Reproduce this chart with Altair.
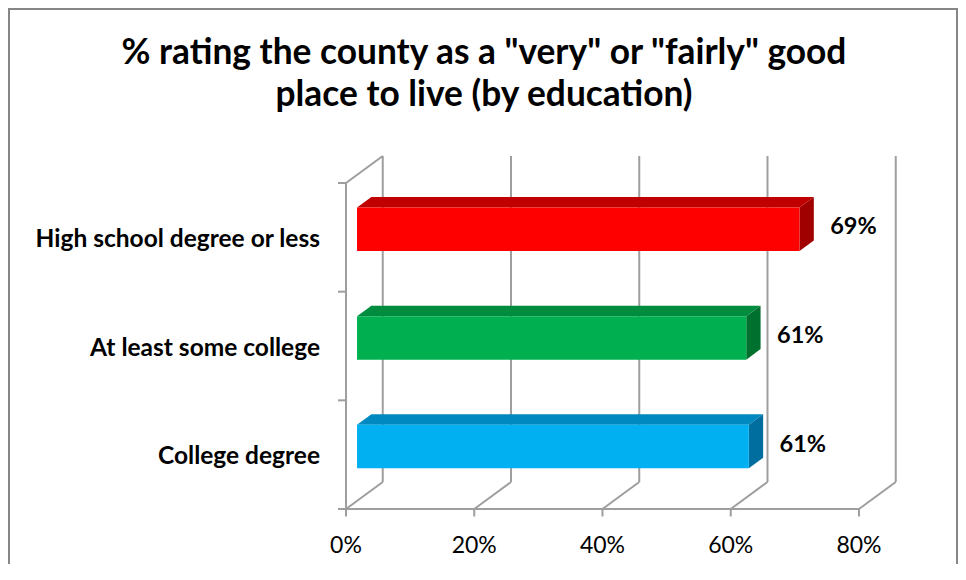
import altair as alt
import pandas as pd

# ---------------- data ----------------
categories = ["High school degree or less", "At least some college", "College degree"]
values = [69.0, 60.7, 61.1]
front_colors = ["#FF0000", "#00B050", "#00B0F0"]
top_colors = ["#C00000", "#008C3E", "#0089C0"]
side_colors = ["#A00000", "#00702F", "#006E9E"]
x_ticks = [0, 20, 40, 60, 80]
y_ticks = [0, 1, 2, 3]
title_lines = ['% rating the county as a "very" or "fairly" good',
               'place to live (by education)']

# ---------------- 3-D geometry (depth offsets in data units) ----------------
DX = 5.73      # depth shift along x (percent units)
DY = 0.2485    # depth shift along y (category units, upward)
F1 = 0.30      # bar front plane depth fraction
F2 = 0.69      # bar back plane depth fraction
HALF = 0.2     # half bar thickness (category units)
GRID = "#9E9E9E"
FONT = "Lato"
W, H = 513, 326

xs = alt.Scale(domain=[0, 80], nice=False, zero=False)
ys = alt.Scale(domain=[0, 3], nice=False, zero=False, reverse=True)


def X(f):
    return alt.X(f, type="quantitative", scale=xs, axis=None)


def Y(f):
    return alt.Y(f, type="quantitative", scale=ys, axis=None)


n = len(categories)
front = pd.DataFrame({
    "cat": categories,
    "x": [F1 * DX] * n,
    "x2": [v + F1 * DX for v in values],
    "y": [i + 0.5 - HALF - F1 * DY for i in range(n)],
    "y2": [i + 0.5 + HALF - F1 * DY for i in range(n)],
    "col": front_colors,
})

top_rows, side_rows = [], []
for i, (c, v) in enumerate(zip(categories, values)):
    for f in (F1, F2):
        top_rows.append({"cat": c, "y": i + 0.5 - HALF - f * DY,
                         "xa": f * DX, "xb": v + f * DX, "col": top_colors[i]})
        side_rows.append({"cat": c, "x": v + f * DX,
                          "ya": i + 0.5 - HALF - f * DY,
                          "yb": i + 0.5 + HALF - f * DY, "col": side_colors[i]})
top = pd.DataFrame(top_rows)
side = pd.DataFrame(side_rows)

grid = pd.DataFrame({
    "xf": x_ticks,
    "yf": [y_ticks[-1]] * len(x_ticks),
    "xb": [t + DX for t in x_ticks],
    "yt": [y_ticks[0] - DY] * len(x_ticks),
    "yb": [y_ticks[-1] - DY] * len(x_ticks),
    "lab": [f"{t}%" for t in x_ticks],
})
wall_top = pd.DataFrame({"xf": [x_ticks[0]], "yf": [y_ticks[0]],
                         "xb": [x_ticks[0] + DX], "yb": [y_ticks[0] - DY]})
frame = pd.DataFrame({"x0": [x_ticks[0]], "x1": [x_ticks[-1]],
                      "y0": [y_ticks[0]], "y1": [y_ticks[-1]]})
yt = pd.DataFrame({"yk": y_ticks})

labels = pd.DataFrame({
    "cat": categories,
    "yc": [i + 0.5 for i in range(n)],
    "xv": [v + F1 * DX for v in values],
    "yv": [i + 0.5 - F1 * DY for i in range(n)],
    "txt": [f"{round(v)}%" for v in values],
})
one = pd.DataFrame({"a": [0]})

rule = dict(color=GRID, strokeWidth=2)

back_lines = alt.Chart(grid).mark_rule(**rule).encode(
    x=X("xb"), y=Y("yt"), y2="yb")
floor_lines = alt.Chart(grid).mark_rule(**rule).encode(
    x=X("xf"), y=Y("yf"), x2="xb", y2="yb")
wall_line = alt.Chart(wall_top).mark_rule(**rule).encode(
    x=X("xf"), y=Y("yf"), x2="xb", y2="yb")
base_line = alt.Chart(frame).mark_rule(**rule).encode(
    x=X("x0"), x2="x1", y=Y("y1"))
left_line = alt.Chart(frame).mark_rule(**rule).encode(
    x=X("x0"), y=Y("y0"), y2="y1")
x_tick_marks = alt.Chart(grid).mark_rule(**rule).encode(
    x=X("xf"), y=alt.value(H), y2=alt.value(H + 7.5))
y_tick_marks = alt.Chart(yt).mark_rule(**rule).encode(
    y=Y("yk"), x=alt.value(-8), x2=alt.value(0))
x_labels = alt.Chart(grid).mark_text(
    align="center", baseline="alphabetic", font=FONT, fontSize=23,
    color="#000000").encode(x=X("xf"), y=alt.value(369.5), text="lab:N")

top_face = alt.Chart(top).mark_area(orient="horizontal").encode(
    y=Y("y"), x=X("xa"), x2="xb", color=alt.Color("col:N", scale=None),
    detail="cat:N")
side_face = alt.Chart(side).mark_area(orient="vertical").encode(
    x=X("x"), y=Y("ya"), y2="yb", color=alt.Color("col:N", scale=None),
    detail="cat:N")
front_face = alt.Chart(front).mark_rect().encode(
    x=X("x"), x2="x2", y=Y("y"), y2="y2", color=alt.Color("col:N", scale=None))

cat_text = alt.Chart(labels).mark_text(
    align="right", baseline="alphabetic", dy=9.5, font=FONT, fontWeight="bold",
    fontSize=24.5, color="#000000").encode(
    x=alt.value(-26), y=Y("yc"), text="cat:N")
val_text = alt.Chart(labels).mark_text(
    align="center", baseline="alphabetic", dx=54, dy=5, font=FONT,
    fontWeight="bold", fontSize=23.5, color="#000000").encode(
    x=X("xv"), y=Y("yv"), text="txt:N")

title = alt.Chart(one).mark_text(
    text=title_lines, align="center", baseline="alphabetic", lineHeight=42,
    font=FONT, fontWeight="bold", fontSize=35.3, color="#000000").encode(
    x=alt.value(138), y=alt.value(-119.5))

border = alt.Chart(one).mark_rect(filled=False, stroke="#868686", strokeWidth=2).encode(
    x=alt.value(-337), x2=alt.value(611), y=alt.value(-174), y2=alt.value(420))

chart = alt.layer(
    border, back_lines, floor_lines, wall_line, left_line, base_line,
    x_tick_marks, y_tick_marks, x_labels,
    top_face, side_face, front_face, cat_text, val_text, title
).properties(
    width=W, height=H,
    padding={"left": 338, "top": 175, "right": 99, "bottom": 55},
    autosize=alt.AutoSizeParams(type="none"),
    background="#FFFFFF",
).configure_view(stroke=None)

chart.save("out.html", embed_options={"renderer": "svg", "actions": False})
